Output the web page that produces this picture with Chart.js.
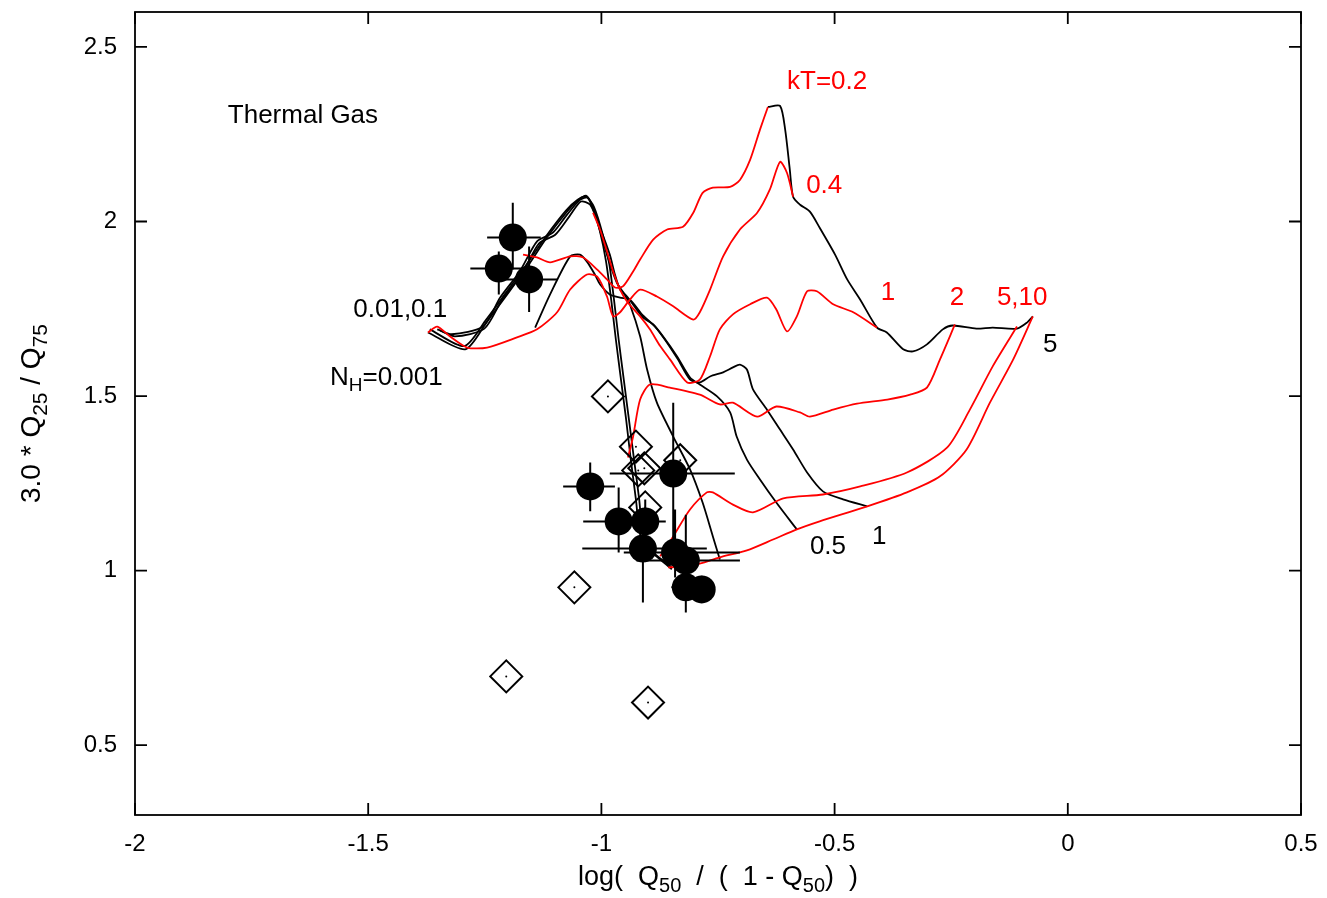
<!DOCTYPE html>
<html>
<head>
<meta charset="utf-8">
<script src="https://cdn.jsdelivr.net/npm/chart.js@4.4.0/dist/chart.umd.min.js"></script>
<style>
html,body{margin:0;padding:0;background:#fff;overflow:hidden;}
</style>
</head>
<body>
<canvas id="c" width="1327" height="898"></canvas>
<script>
// axis ticks
const xTicks=[-2,-1.5,-1,-0.5,0,0.5];
const yTicks=[0.5,1,1.5,2,2.5];

// red curves, constant kT  [x, y]
const kT02=[[-1.168,1.905],[-1.138,1.897],[-1.110,1.883],[-1.067,1.900],[-1.039,1.897],[-1.009,1.862],[-0.988,1.834],[-0.971,1.811],[-0.954,1.814],[-0.932,1.857],[-0.917,1.891],[-0.889,1.948],[-0.859,1.977],[-0.825,1.985],[-0.803,2.025],[-0.783,2.082],[-0.761,2.097],[-0.724,2.099],[-0.703,2.119],[-0.681,2.177],[-0.660,2.263],[-0.643,2.328]];
const kT04=[[-1.372,1.682],[-1.352,1.699],[-1.325,1.671],[-1.288,1.639],[-1.245,1.639],[-1.181,1.668],[-1.138,1.691],[-1.095,1.740],[-1.067,1.805],[-1.031,1.848],[-1.009,1.842],[-0.988,1.785],[-0.975,1.728],[-0.960,1.740],[-0.939,1.776],[-0.917,1.805],[-0.881,1.785],[-0.846,1.757],[-0.803,1.719],[-0.789,1.740],[-0.767,1.805],[-0.739,1.900],[-0.703,1.977],[-0.666,2.025],[-0.639,2.091],[-0.617,2.171],[-0.602,2.139],[-0.589,2.071]];
const kT1=[[-1.018,2.025],[-1.003,1.977],[-0.988,1.914],[-0.975,1.857],[-0.960,1.805],[-0.945,1.771],[-0.917,1.728],[-0.896,1.691],[-0.874,1.643],[-0.853,1.605],[-0.816,1.539],[-0.789,1.547],[-0.767,1.614],[-0.746,1.691],[-0.718,1.734],[-0.681,1.763],[-0.645,1.782],[-0.625,1.748],[-0.602,1.685],[-0.581,1.728],[-0.559,1.800],[-0.538,1.800],[-0.503,1.763],[-0.460,1.740],[-0.409,1.696]];
const kT2=[[-0.943,1.324],[-0.932,1.384],[-0.917,1.490],[-0.896,1.533],[-0.853,1.524],[-0.789,1.504],[-0.746,1.476],[-0.718,1.481],[-0.666,1.441],[-0.625,1.470],[-0.574,1.453],[-0.553,1.441],[-0.503,1.461],[-0.452,1.478],[-0.387,1.490],[-0.338,1.504],[-0.302,1.524],[-0.274,1.605],[-0.242,1.705]];
const kT5=[[-0.874,1.041],[-0.846,1.098],[-0.810,1.175],[-0.774,1.224],[-0.761,1.224],[-0.718,1.189],[-0.675,1.167],[-0.610,1.207],[-0.525,1.218],[-0.445,1.241],[-0.345,1.281],[-0.259,1.352],[-0.210,1.461],[-0.161,1.585],[-0.109,1.699]];
const kT10=[[-0.857,1.009],[-0.803,1.015],[-0.746,1.038],[-0.688,1.058],[-0.632,1.089],[-0.581,1.118],[-0.532,1.141],[-0.430,1.184],[-0.345,1.224],[-0.274,1.270],[-0.217,1.347],[-0.167,1.481],[-0.117,1.605],[-0.075,1.728]];

// black curves, constant N_H
const nh0001=[[-1.372,1.682],[-1.292,1.634],[-1.245,1.714],[-1.202,1.791],[-1.160,1.868],[-1.117,1.954],[-1.074,2.028],[-1.053,2.057],[-1.033,2.074],[-1.020,2.048],[-1.003,1.971],[-0.990,1.885],[-0.979,1.776],[-0.969,1.662],[-0.958,1.547],[-0.947,1.433],[-0.937,1.318],[-0.926,1.204],[-0.917,1.104],[-0.900,1.061],[-0.874,1.032],[-0.849,1.004]];
const nh001=[[-1.368,1.691],[-1.294,1.643],[-1.247,1.719],[-1.204,1.797],[-1.162,1.874],[-1.119,1.957],[-1.076,2.031],[-1.051,2.062],[-1.033,2.071],[-1.016,2.042],[-0.997,1.962],[-0.983,1.877],[-0.973,1.776],[-0.963,1.662],[-0.952,1.547],[-0.941,1.433],[-0.930,1.318],[-0.919,1.204],[-0.911,1.104],[-0.896,1.061],[-0.849,1.009]];
const nh01=[[-1.352,1.691],[-1.321,1.677],[-1.254,1.699],[-1.217,1.782],[-1.175,1.857],[-1.138,1.943],[-1.104,1.968],[-1.074,2.019],[-1.046,2.062],[-1.029,2.068],[-1.009,2.000],[-0.988,1.905],[-0.967,1.825],[-0.950,1.791],[-0.939,1.763],[-0.917,1.671],[-0.902,1.576],[-0.881,1.481],[-0.846,1.384],[-0.810,1.290],[-0.783,1.195],[-0.761,1.098],[-0.746,1.032]];
const nh05=[[-1.346,1.688],[-1.314,1.671],[-1.251,1.693],[-1.213,1.776],[-1.170,1.851],[-1.134,1.937],[-1.099,1.962],[-1.069,2.014],[-1.044,2.057],[-1.024,2.048],[-1.003,1.982],[-0.982,1.905],[-0.971,1.848],[-0.960,1.805],[-0.945,1.785],[-0.911,1.725],[-0.889,1.705],[-0.868,1.671],[-0.838,1.614],[-0.810,1.553],[-0.789,1.533],[-0.752,1.499],[-0.724,1.453],[-0.710,1.384],[-0.688,1.318],[-0.660,1.261],[-0.625,1.195],[-0.581,1.118]];
const nh1=[[-1.142,1.696],[-1.110,1.791],[-1.067,1.900],[-1.046,1.905],[-1.031,1.885],[-1.014,1.848],[-1.003,1.820],[-0.982,1.791],[-0.960,1.782],[-0.939,1.776],[-0.911,1.731],[-0.885,1.699],[-0.864,1.662],[-0.836,1.605],[-0.810,1.547],[-0.789,1.539],[-0.767,1.556],[-0.739,1.568],[-0.718,1.582],[-0.703,1.590],[-0.688,1.576],[-0.675,1.519],[-0.645,1.461],[-0.617,1.404],[-0.589,1.347],[-0.559,1.281],[-0.525,1.227],[-0.482,1.204],[-0.430,1.184]];
const nh5=[[-0.643,2.328],[-0.617,2.331],[-0.606,2.263],[-0.596,2.148],[-0.589,2.071],[-0.574,2.048],[-0.553,2.028],[-0.532,1.982],[-0.499,1.905],[-0.473,1.834],[-0.445,1.776],[-0.409,1.696],[-0.388,1.682],[-0.353,1.634],[-0.332,1.628],[-0.302,1.648],[-0.268,1.691],[-0.247,1.702],[-0.196,1.693],[-0.161,1.696],[-0.109,1.693],[-0.087,1.711],[-0.075,1.728]];

// observed sources with error bars (filled circles)
const obsX=[-1.190,-1.220,-1.155,-1.024,-0.846,-0.963,-0.906,-0.911,-0.842,-0.819,-0.819,-0.785];
const obsY=[1.954,1.865,1.834,1.241,1.278,1.141,1.141,1.063,1.052,1.029,0.952,0.946];
const obsXlo=[-1.245,-1.281,-1.215,-1.082,-0.982,-1.039,-0.950,-1.041,-0.952,-0.925,-0.850,-0.810];
const obsXhi=[-1.130,-1.160,-1.095,-0.971,-0.714,-0.874,-0.862,-0.774,-0.703,-0.703,-0.790,-0.760];
const obsYlo=[1.862,1.791,1.741,1.170,1.089,1.052,1.075,0.909,0.980,0.990,0.880,0.910];
const obsYhi=[2.054,1.914,1.928,1.310,1.481,1.238,1.204,1.104,1.175,1.160,1.000,0.985];

// open diamonds
const dmX=[-0.986,-0.926,-0.921,-0.908,-0.831,-0.906,-1.058,-1.204,-0.900];
const dmY=[1.499,1.355,1.287,1.293,1.316,1.181,0.952,0.697,0.622];

// annotations
const lblText=["Thermal Gas","kT=0.2","0.4","1","2","5,10","5","0.5","1","0.01,0.1"];
const lblX=[-1.801,-0.602,-0.561,-0.401,-0.253,-0.152,-0.053,-0.553,-0.420,-1.532];
const lblY=[2.302,2.400,2.102,1.796,1.782,1.782,1.648,1.067,1.098,1.748];
const lblColor=["#000","#f00","#f00","#f00","#f00","#f00","#000","#000","#000","#000"];

const FONT="'Liberation Sans', Arial, sans-serif";
const pts=a=>a.map(p=>({x:p[0],y:p[1]}));

function curve(data,color){
return {type:"scatter",data:pts(data),showLine:true,borderColor:color,borderWidth:1.8,pointRadius:0,tension:0.25,fill:false,order:3};
}

// text with subscripts: parts = [{t, s}]
function drawRich(ctx,parts,x,y,align,color,big,small){
big=big||26;small=small||19;
ctx.save();
ctx.fillStyle=color;
ctx.textBaseline="middle";
ctx.textAlign="left";
let w=0;
parts.forEach(p=>{ctx.font=(p.s?small:big)+"px "+FONT;w+=ctx.measureText(p.t).width;});
let cx=align==="center"?x-w/2:x;
parts.forEach(p=>{
ctx.font=(p.s?small:big)+"px "+FONT;
ctx.fillText(p.t,cx,y+(p.s?big*0.32:0));
cx+=ctx.measureText(p.t).width;
});
ctx.restore();
}

const decor={
id:"decor",
afterDatasetsDraw(c){
const ctx=c.ctx, xs=c.scales.x, ys=c.scales.y, a=c.chartArea;
// error bars
ctx.save();
ctx.strokeStyle="#000";ctx.lineWidth=2;
ctx.beginPath();
obsX.forEach((v,i)=>{
const px=xs.getPixelForValue(v), py=ys.getPixelForValue(obsY[i]);
ctx.moveTo(xs.getPixelForValue(obsXlo[i]),py);ctx.lineTo(xs.getPixelForValue(obsXhi[i]),py);
ctx.moveTo(px,ys.getPixelForValue(obsYlo[i]));ctx.lineTo(px,ys.getPixelForValue(obsYhi[i]));
});
ctx.stroke();
// frame and inward ticks
ctx.lineWidth=1.8;
ctx.strokeRect(a.left,a.top,a.right-a.left,a.bottom-a.top);
ctx.beginPath();
xTicks.forEach(v=>{
const px=xs.getPixelForValue(v);
ctx.moveTo(px,a.bottom);ctx.lineTo(px,a.bottom-12);
ctx.moveTo(px,a.top);ctx.lineTo(px,a.top+12);
});
yTicks.forEach(v=>{
const py=ys.getPixelForValue(v);
ctx.moveTo(a.left,py);ctx.lineTo(a.left+12,py);
ctx.moveTo(a.right,py);ctx.lineTo(a.right-12,py);
});
ctx.stroke();
ctx.restore();
// labels
lblText.forEach((t,i)=>{
drawRich(ctx,[{t}],xs.getPixelForValue(lblX[i]),ys.getPixelForValue(lblY[i]),"left",lblColor[i]);
});
drawRich(ctx,[{t:"N"},{t:"H",s:1},{t:"=0.001"}],xs.getPixelForValue(-1.582),ys.getPixelForValue(1.553),"left","#000");
// axis titles
drawRich(ctx,[{t:"log(  Q"},{t:"50",s:1},{t:"  /  (  1 - Q"},{t:"50",s:1},{t:")  )"}],(a.left+a.right)/2,a.bottom+63,"center","#000",27,20);
ctx.save();
ctx.translate(32,(a.top+a.bottom)/2);
ctx.rotate(-Math.PI/2);
drawRich(ctx,[{t:"3.0 * Q"},{t:"25",s:1},{t:" / Q"},{t:"75",s:1}],0,0,"center","#000",28,21);
ctx.restore();
}
};

new Chart(document.getElementById("c"),{
data:{datasets:[
{type:"scatter",data:obsX.map((v,i)=>({x:v,y:obsY[i]})),pointRadius:14,pointBackgroundColor:"#000",pointBorderColor:"#000",pointBorderWidth:0,order:0},
{type:"scatter",data:dmX.map((v,i)=>({x:v,y:dmY[i]})),pointStyle:"rectRot",pointRadius:16,pointBackgroundColor:"rgba(0,0,0,0)",pointBorderColor:"#000",pointBorderWidth:2,order:1},
{type:"scatter",data:dmX.map((v,i)=>({x:v,y:dmY[i]})),pointRadius:1,pointBackgroundColor:"#000",pointBorderWidth:0,order:1},
curve(kT02,"#ff0000"),curve(kT04,"#ff0000"),curve(kT1,"#ff0000"),curve(kT2,"#ff0000"),curve(kT5,"#ff0000"),curve(kT10,"#ff0000"),
curve(nh0001,"#000"),curve(nh001,"#000"),curve(nh01,"#000"),curve(nh05,"#000"),curve(nh1,"#000"),curve(nh5,"#000")
]},
options:{
responsive:false,animation:false,devicePixelRatio:1,
layout:{autoPadding:false,padding:{top:12,right:26,left:0,bottom:0}},
plugins:{legend:{display:false},tooltip:{enabled:false}},
scales:{
x:{type:"linear",min:-2,max:0.5,
afterBuildTicks:s=>{s.ticks=xTicks.map(v=>({value:v}));},
afterFit:s=>{s.height=83;s.paddingLeft=0;s.paddingRight=0;},
grid:{display:false,drawTicks:false},border:{display:false},
ticks:{color:"#000",padding:15,font:{family:FONT,size:24},callback:v=>String(v)}},
y:{type:"linear",min:0.3,max:2.6,
afterBuildTicks:s=>{s.ticks=yTicks.map(v=>({value:v}));},
afterFit:s=>{s.width=135;s.paddingTop=0;s.paddingBottom=0;},
grid:{display:false,drawTicks:false},border:{display:false},
ticks:{color:"#000",padding:18,font:{family:FONT,size:24},callback:v=>String(v)}}
}
},
plugins:[decor]
});
</script>
</body>
</html>
